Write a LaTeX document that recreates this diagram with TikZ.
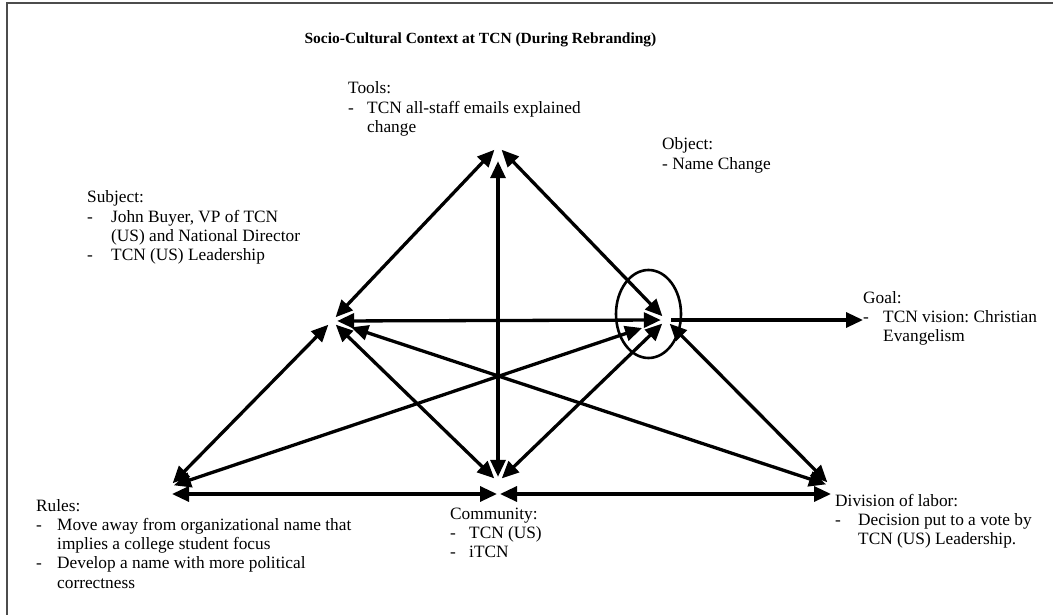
\documentclass[tikz,border=0pt]{standalone}
\usepackage{fontspec}
\setmainfont{Liberation Serif}
\usetikzlibrary{arrows.meta,shapes.geometric}
\frenchspacing
\newcommand{\bodysize}{\fontsize{17.3pt}{19.3pt}\selectfont}
\newcommand{\titlesize}{\fontsize{15.5pt}{18pt}\selectfont}
\begin{document}
\begin{tikzpicture}[x=1pt,y=-1pt,
  vertex/.style={circle,inner sep=0pt,minimum size=10pt},
  twoway/.style={line width=3.3pt,{Triangle[length=17pt,width=15pt]}-{Triangle[length=17pt,width=15pt]}},
  oneway/.style={line width=3.3pt,-{Triangle[length=17pt,width=15pt]}},
  txt/.style={anchor=base west,inner sep=0pt,font=\bodysize},
  frame/.style={line width=1.8pt,black!70},
]
\useasboundingbox (0,0) rectangle (1053,615);

% page frame (left and top edges)
\draw[frame] (7,620) -- (7,3) -- (1060,3);

% corners of the activity system
\node[vertex] (T) at (498,146) {};
\node[vertex] (S) at (332,321) {};
\node[vertex] (O) at (666,320) {};
\node[vertex] (R) at (169,487) {};
\node[vertex] (C) at (498,482) {};
\node[vertex] (D) at (831,486) {};
\coordinate (Rb) at (172,494);
\coordinate (CbL) at (497,494);
\coordinate (CbR) at (500,494);
\coordinate (Db) at (831,494);
\coordinate (G) at (863,320);

% ring around the object
\node[draw,ellipse,line width=2.6pt,minimum width=65pt,minimum height=88pt,inner sep=0pt] (ring) at (648.5,314) {};

% connectors
\draw[twoway] (T) -- (S);
\draw[twoway] (T) -- (O);
\draw[twoway,shorten <=10pt] (T) -- (C);
\draw[twoway] (S) -- (O);
\draw[twoway] (S) -- (R);
\draw[twoway] (S) -- (C);
\draw[twoway,shorten <=15pt] (S) -- (D);
\draw[twoway,shorten <=20pt] (O) -- (R);
\draw[twoway] (O) -- (C);
\draw[twoway] (O) -- (D);
\draw[twoway] (Rb) -- (CbL);
\draw[twoway] (CbR) -- (Db);
\draw[oneway] (O) -- (G);

% title
\node[anchor=base,inner sep=0pt,font=\titlesize\bfseries] (title) at (480.5,44)
  {Socio-Cultural Context at TCN (During Rebranding)};

% labels
\node[txt] (tools) at (348,94) {\begin{tabular}[t]{@{}p{19pt}@{}l@{}}
  \multicolumn{2}{@{}l@{}}{Tools:}\\
  -& TCN all-staff emails explained\\
   & change\end{tabular}};

\node[txt] (object) at (662,150) {\begin{tabular}[t]{@{}l@{}}
  Object:\\
  - Name Change\end{tabular}};

\node[txt] (subject) at (87,203) {\begin{tabular}[t]{@{}p{24pt}@{}l@{}}
  \multicolumn{2}{@{}l@{}}{Subject:}\\
  -& John Buyer, VP of TCN\\
   & (US) and National Director\\
  -& TCN (US) Leadership\end{tabular}};

\node[txt] (goal) at (863,303) {\begin{tabular}[t]{@{}p{20pt}@{}l@{}}
  \multicolumn{2}{@{}l@{}}{Goal:}\\
  -& TCN vision: Christian\\
   & Evangelism\end{tabular}};

\node[txt] (rules) at (36,511) {\begin{tabular}[t]{@{}p{21pt}@{}l@{}}
  \multicolumn{2}{@{}l@{}}{Rules:}\\
  -& Move away from organizational name that\\
   & implies a college student focus\\
  -& Develop a name with more political\\
   & correctness\end{tabular}};

\node[txt] (community) at (450,519) {\begin{tabular}[t]{@{}p{19pt}@{}l@{}}
  \multicolumn{2}{@{}l@{}}{Community:}\\
  -& TCN (US)\\
  -& iTCN\end{tabular}};

\node[txt] (division) at (835,506) {\begin{tabular}[t]{@{}p{23pt}@{}l@{}}
  \multicolumn{2}{@{}l@{}}{Division of labor:}\\
  -& Decision put to a vote by\\
   & TCN (US) Leadership.\end{tabular}};
\end{tikzpicture}
\end{document}
